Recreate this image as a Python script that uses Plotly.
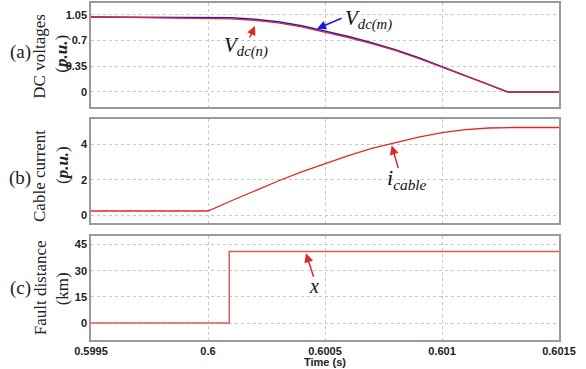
import plotly.graph_objects as go

# ---------------- data ----------------
t_v = [0.5995, 0.6, 0.6001, 0.6002, 0.6003, 0.6004, 0.6005, 0.6006, 0.6007,
       0.6008, 0.6009, 0.601, 0.6011, 0.6012, 0.60128, 0.6015]
vdc_m = [1.02, 1.02, 1.01, 0.99, 0.955, 0.90, 0.83, 0.755, 0.67,
         0.575, 0.465, 0.345, 0.23, 0.10, 0.0, 0.0]
vdc_n = [1.02, 1.00, 0.995, 0.975, 0.94, 0.885, 0.816, 0.74, 0.658,
         0.565, 0.455, 0.338, 0.225, 0.10, 0.0, 0.0]

t_i = [0.5995, 0.6, 0.6001, 0.6002, 0.6003, 0.6004, 0.6005, 0.6006, 0.6007,
       0.6008, 0.6009, 0.601, 0.6011, 0.6012, 0.6013, 0.6015]
i_cable = [0.23, 0.23, 0.81, 1.39, 1.93, 2.45, 2.93, 3.37, 3.77,
           4.1, 4.42, 4.67, 4.84, 4.93, 4.96, 4.96]

t_x = [0.5995, 0.600091, 0.600091, 0.6015]
fault_x = [0, 0, 41, 41]

x_ticks = [0.5995, 0.6, 0.6005, 0.601, 0.6015]
x_tick_text = ["0.5995", "0.6", "0.6005", "0.601", "0.6015"]
y1_ticks = [0, 0.35, 0.7, 1.05]
y1_tick_text = ["0", "0.35", "0.7", "1.05"]
y2_ticks = [0, 2, 4]
y3_ticks = [0, 15, 30, 45]

RED = "#e02828"
BLUE = "#1a1ad8"

fig = go.Figure()
fig.add_trace(go.Scatter(x=t_v, y=vdc_m, mode="lines", line=dict(color=BLUE, width=1.5),
                         xaxis="x", yaxis="y", showlegend=False))
fig.add_trace(go.Scatter(x=t_v, y=vdc_n, mode="lines", line=dict(color=RED, width=1.3),
                         xaxis="x", yaxis="y", showlegend=False))
fig.add_trace(go.Scatter(x=t_i, y=i_cable, mode="lines", line=dict(color=RED, width=1.3),
                         xaxis="x2", yaxis="y2", showlegend=False))
fig.add_trace(go.Scatter(x=t_x, y=fault_x, mode="lines", line=dict(color="#e05a5a", width=1.5),
                         xaxis="x3", yaxis="y3", showlegend=False))

H = 369
top_m, bot_m = 1, 29
ph = H - top_m - bot_m


def yd(py_top, py_bot):
    return [(H - bot_m - py_bot) / ph, (H - bot_m - py_top) / ph]


def px_x(px):
    return (px - 91) / 468.0


def px_y(py):
    return (H - bot_m - py) / ph


tickfont = dict(family="Liberation Sans, Arial", size=11, color="#222222", weight="bold")
grid = dict(showgrid=True, gridcolor="#c8c8c8", griddash="dot", gridwidth=1,
            showline=True, linecolor="#9a9a9a", linewidth=1.5, mirror=True,
            zeroline=False, ticks="", tickfont=tickfont)

xr = [0.5995, 0.6015]
fig.update_layout(
    width=586, height=369,
    margin=dict(l=91, r=27, t=top_m, b=bot_m),
    paper_bgcolor="white", plot_bgcolor="white",
    xaxis=dict(domain=[0, 1], anchor="y", range=xr, tickvals=x_ticks,
               showticklabels=False, **grid),
    xaxis2=dict(domain=[0, 1], anchor="y2", range=xr, tickvals=x_ticks,
                showticklabels=False, matches="x", **grid),
    xaxis3=dict(domain=[0, 1], anchor="y3", range=xr, tickvals=x_ticks,
                ticktext=x_tick_text, matches="x", **grid),
    yaxis=dict(domain=yd(1, 106), anchor="x", range=[-0.21, 1.21],
               tickvals=y1_ticks, ticktext=y1_tick_text, **grid),
    yaxis2=dict(domain=yd(117.7, 222.3), anchor="x2", range=[-0.45, 5.44],
                tickvals=y2_ticks, **grid),
    yaxis3=dict(domain=yd(235, 340), anchor="x3", range=[-9.7, 50.1],
                tickvals=y3_ticks, **grid),
)

serif = "Liberation Serif, Times New Roman, serif"
ann = []
# y-axis titles
for lab, px_cy, main, main_cy, unit, unit_cy in [
    ("(a)", 50, "DC voltages", 55, "(<b><i>p.u.</i></b>)", 52),
    ("(b)", 177, "Cable current", 175, "(<b><i>p.u.</i></b>)", 164),
    ("(c)", 288, "Fault distance", 288, "(km)", 289),
]:
    ann.append(dict(text=lab, xref="paper", yref="paper", x=px_x(20), y=px_y(px_cy),
                    showarrow=False, font=dict(family=serif, size=19, color="#222"),
                    xanchor="center", yanchor="middle"))
    ann.append(dict(text=main, xref="paper", yref="paper", x=px_x(40), y=px_y(main_cy),
                    showarrow=False, textangle=-90, font=dict(family=serif, size=17, color="#222"),
                    xanchor="center", yanchor="middle"))
    ann.append(dict(text=unit, xref="paper", yref="paper", x=px_x(62), y=px_y(unit_cy),
                    showarrow=False, textangle=-90, font=dict(family=serif, size=17, color="#222"),
                    xanchor="center", yanchor="middle"))

# x-axis title
ann.append(dict(text="<b>Time (s)</b>", xref="paper", yref="paper", x=px_x(325), y=px_y(362.5),
                showarrow=False, font=dict(family="Liberation Sans, Arial", size=11, color="#222"),
                xanchor="center", yanchor="middle"))

# arrows
def arrow(xa, ya, x, y, ax, ay, color):
    ann.append(dict(text="", xref=xa, yref=ya, x=x, y=y, ax=ax, ay=ay,
                    showarrow=True, arrowhead=2, arrowsize=1.2, arrowwidth=1.5,
                    arrowcolor=color))

arrow("x", "y", 0.600201, 0.897, -6, 13, RED)
arrow("x", "y", 0.600466, 0.861, 26, -11, BLUE)
arrow("x2", "y2", 0.600785, 3.94, 7, 24, RED)
arrow("x3", "y3", 0.600419, 40.0, 8, 25, RED)

# series labels
ann.append(dict(text="<i>V</i><sub><i>dc(n)</i></sub>", xref="paper", yref="paper",
                x=px_x(246), y=px_y(45), showarrow=False,
                font=dict(family=serif, size=21, color="#111"), xanchor="center", yanchor="middle"))
ann.append(dict(text="<i>V</i><sub><i>dc(m)</i></sub>", xref="paper", yref="paper",
                x=px_x(368), y=px_y(18), showarrow=False,
                font=dict(family=serif, size=21, color="#111"), xanchor="center", yanchor="middle"))
ann.append(dict(text="<i>i</i><sub><i>cable</i></sub>", xref="paper", yref="paper",
                x=px_x(407), y=px_y(178), showarrow=False,
                font=dict(family=serif, size=22, color="#111"), xanchor="center", yanchor="middle"))
ann.append(dict(text="<i>x</i>", xref="paper", yref="paper",
                x=px_x(314), y=px_y(286), showarrow=False,
                font=dict(family=serif, size=20, color="#111"), xanchor="center", yanchor="middle"))

fig.update_layout(annotations=ann)
fig.write_html("out.html", post_script="document.body.style.margin='0';",
               config={"displayModeBar": False})
